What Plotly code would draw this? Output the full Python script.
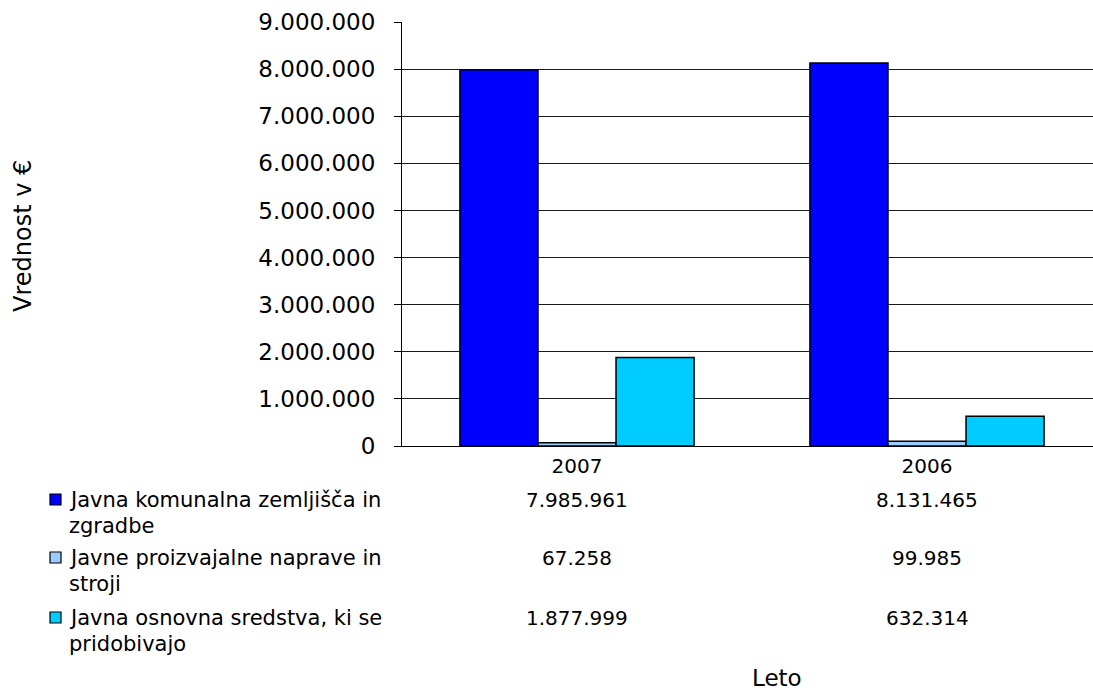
import plotly.graph_objects as go

# Years (categories) and asset values in EUR
categories = ["2007", "2006"]
komunalna_zemljisca = [7985961, 8131465]
proizvajalne_naprave = [67258, 99985]
osnovna_sredstva = [1877999, 632314]

# Series labels, wrapped as in the data table under the chart
series_labels = [
    ("Javna komunalna zemljišča in", "zgradbe"),
    ("Javne proizvajalne naprave in", "stroji"),
    ("Javna osnovna sredstva, ki se", "pridobivajo"),
]
y_tick_values = [0, 1000000, 2000000, 3000000, 4000000, 5000000,
                 6000000, 7000000, 8000000, 9000000]

series_values = [komunalna_zemljisca, proizvajalne_naprave, osnovna_sredstva]
series_colors = ["#0000FF", "#99CCFF", "#00CCFF"]

FONT = "DejaVu Sans"
W, H = 1093, 690
PLOT_L, PLOT_T, PLOT_B = 402, 22, 446
UNIT_PX = 350  # pixels per category step


def paper_y(pix):
    return (PLOT_B - pix) / (PLOT_B - PLOT_T)


def paper_x(pix):
    return (pix - PLOT_L) / (W - PLOT_L)


def fmt(v):
    return f"{v:,}".replace(",", ".")


fig = go.Figure()
for (lines, vals, col) in zip(series_labels, series_values, series_colors):
    fig.add_trace(go.Bar(
        x=categories, y=vals, name=" ".join(lines),
        marker=dict(color=col, line=dict(color="#000000", width=1.5)),
        showlegend=False,
    ))

annotations = []
shapes = []
row_centers = [500, 558, 618]
for i, (lines, vals, col) in enumerate(zip(series_labels, series_values, series_colors)):
    yc = row_centers[i]
    # legend key square
    shapes.append(dict(
        type="rect", xref="paper", yref="paper",
        x0=paper_x(50), x1=paper_x(61), y0=paper_y(yc - 6), y1=paper_y(yc + 5),
        fillcolor=col, line=dict(color="#000000", width=1.2),
    ))
    for j, line in enumerate(lines):
        annotations.append(dict(
            x=paper_x(67), y=paper_y(yc + j * 26), xref="paper", yref="paper",
            text=line, showarrow=False, xanchor="left", yanchor="middle",
            font=dict(family=FONT, size=21, color="#000000"),
        ))
    # table values, one column per category
    for k, v in enumerate(vals):
        annotations.append(dict(
            x=k, y=paper_y(yc), xref="x", yref="paper",
            text=fmt(v), showarrow=False, xanchor="center", yanchor="middle",
            font=dict(family=FONT, size=20, color="#000000"),
        ))

# axis titles
annotations.append(dict(
    x=paper_x(777), y=paper_y(678), xref="paper", yref="paper",
    text="Leto", showarrow=False, xanchor="center", yanchor="middle",
    font=dict(family=FONT, size=23, color="#000000"),
))
annotations.append(dict(
    x=paper_x(23), y=paper_y(236), xref="paper", yref="paper",
    text="Vrednost v €", showarrow=False, xanchor="center", yanchor="middle",
    textangle=-90, font=dict(family=FONT, size=24, color="#000000"),
))

fig.update_layout(
    width=W, height=H,
    margin=dict(l=PLOT_L, r=0, t=PLOT_T, b=H - PLOT_B, pad=0),
    paper_bgcolor="#FFFFFF", plot_bgcolor="#FFFFFF",
    separators=",.",
    barmode="group", bargap=0.331, bargroupgap=0,
    font=dict(family=FONT, color="#000000"),
    annotations=annotations, shapes=shapes,
    xaxis=dict(
        type="category",
        range=[-0.5, -0.5 + (W - PLOT_L) / UNIT_PX],
        showgrid=False, showline=True, linecolor="#000000", linewidth=1,
        ticks="", tickfont=dict(family=FONT, size=20, color="#000000"),
        ticklabelstandoff=2, zeroline=False,
    ),
    yaxis=dict(
        range=[0, 9000000], tickvals=y_tick_values, tickformat=",d",
        showgrid=True, gridcolor="#1a1a1a", gridwidth=1,
        showline=True, linecolor="#000000", linewidth=1,
        ticks="outside", ticklen=7, tickcolor="#000000", tickwidth=1,
        tickfont=dict(family=FONT, size=23, color="#000000"),
        ticklabelstandoff=14, zeroline=False,
    ),
)

fig.write_html("out.html")
